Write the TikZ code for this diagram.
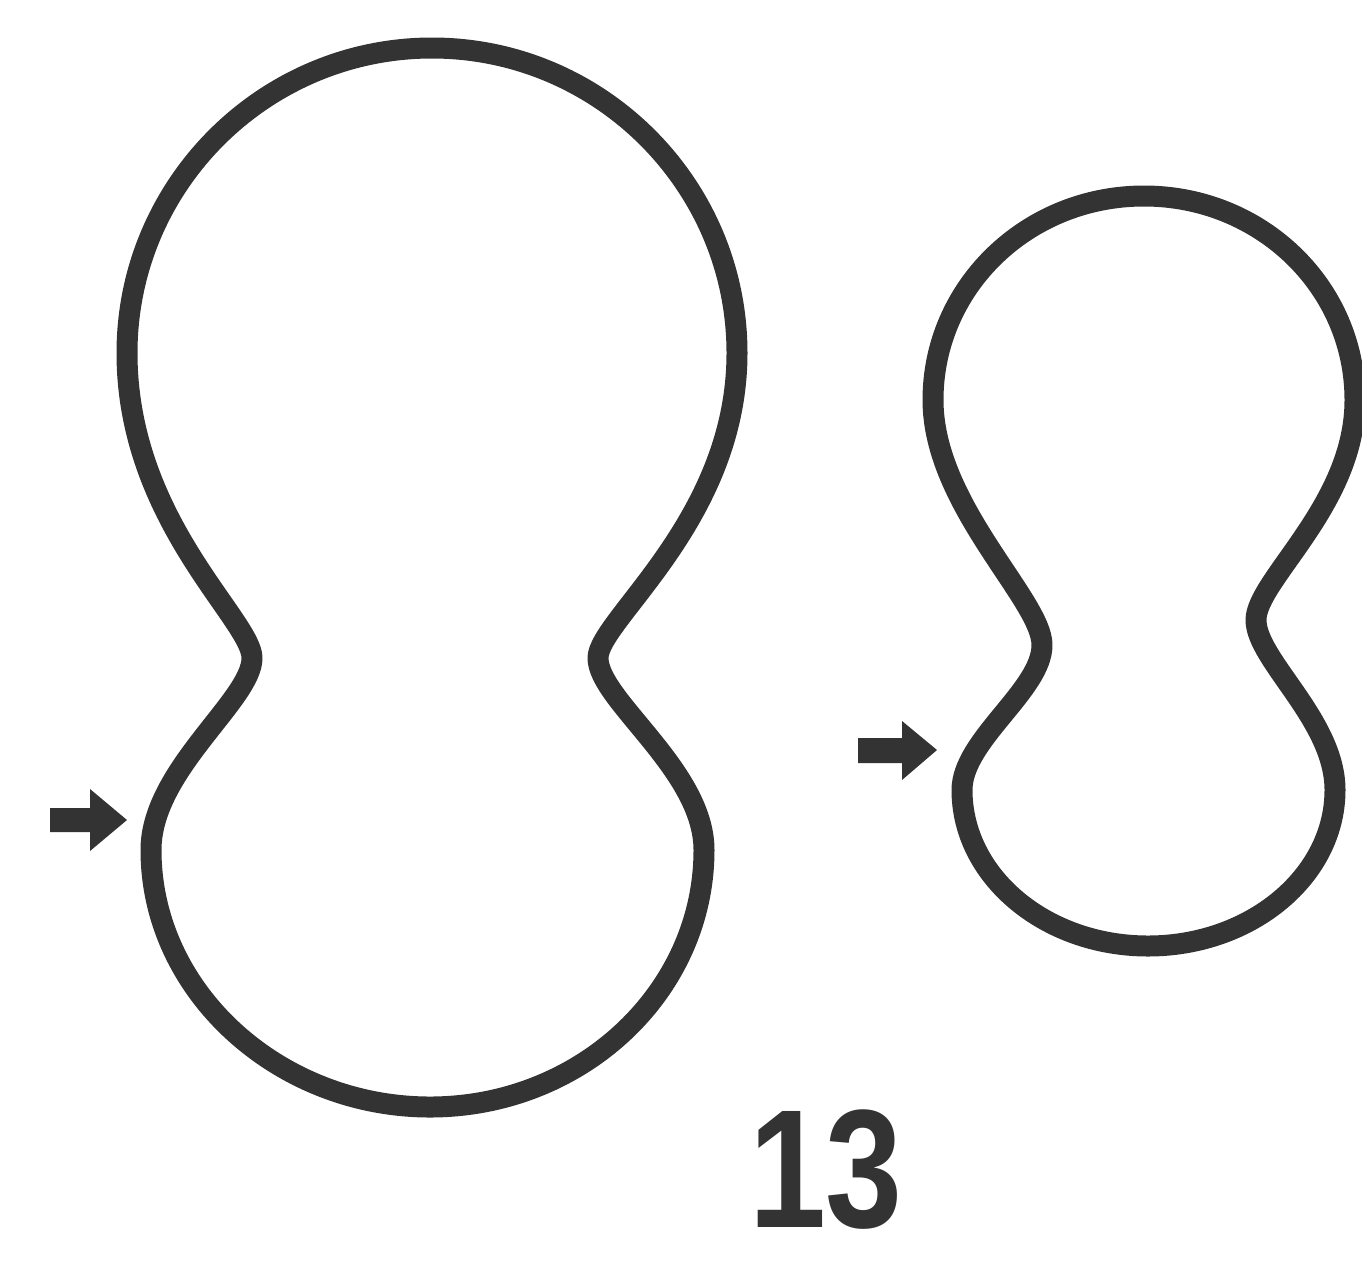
\documentclass[tikz,border=0pt]{standalone}
\usepackage{fontspec}
\setmainfont{Liberation Sans}
\begin{document}
\begin{tikzpicture}[x=0.02cm,y=-0.02cm,
  outline/.style={draw=ink,line width=0.42cm,line join=round},
  pointer/.style={fill=ink,draw=none}]
\definecolor{ink}{HTML}{333333}
\useasboundingbox[fill=white] (0,0) rectangle (1362,1279);
% left shape
\draw[outline] (127,353)
  .. controls (127,185) and (264,48) .. (432,48)
  .. controls (600,48) and (737,185) .. (737,353)
  .. controls (737,520) and (598,620) .. (598,658)
  .. controls (598,700) and (704,770) .. (704,850)
  .. controls (704,992) and (581,1107) .. (430,1107)
  .. controls (279,1107) and (151,992) .. (151,850)
  .. controls (151,770) and (252,700) .. (252,658)
  .. controls (252,620) and (127,520) .. (127,353) -- cycle;
% right shape
\draw[outline] (933,400)
  .. controls (933,287) and (1027,196) .. (1144,196)
  .. controls (1261,196) and (1355,287) .. (1355,400)
  .. controls (1355,505) and (1256,580) .. (1256,620)
  .. controls (1256,660) and (1335,720) .. (1335,790)
  .. controls (1335,876) and (1251,946) .. (1148,946)
  .. controls (1045,946) and (962,876) .. (962,790)
  .. controls (962,740) and (1042,690) .. (1042,645)
  .. controls (1042,600) and (933,505) .. (933,400) -- cycle;
% arrows
\fill[pointer] (50,808) -- (90,808) -- (90,789) -- (127,820) -- (90,851) -- (90,832) -- (50,832) -- cycle;
\fill[pointer] (858,738) -- (902,738) -- (902,721) -- (937,750) -- (902,780) -- (902,763) -- (858,763) -- cycle;
\node[text=ink,font=\bfseries\fontsize{96}{100}\selectfont,xscale=0.82,inner sep=0] (lbl) at (826,1170) {13};
\end{tikzpicture}
\end{document}
